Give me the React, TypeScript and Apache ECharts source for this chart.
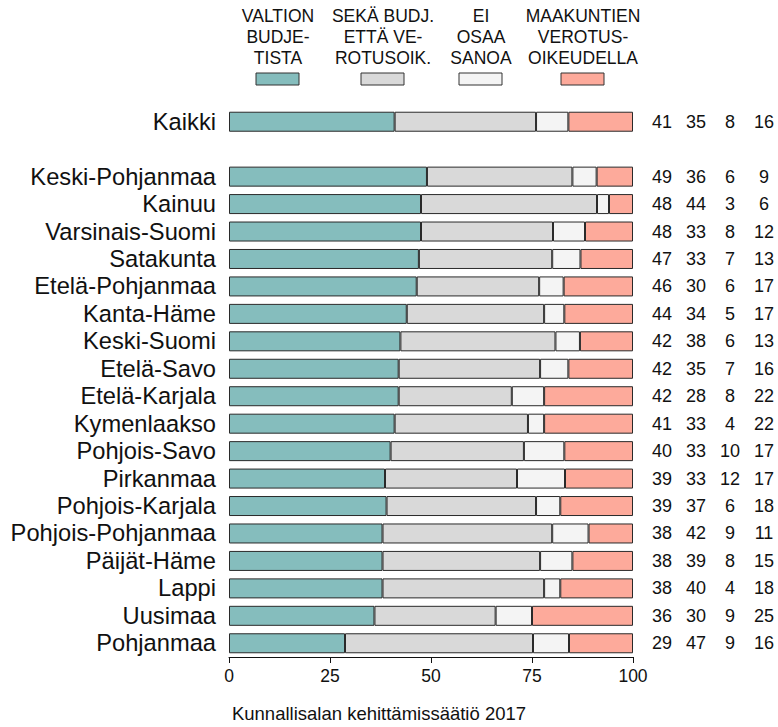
import React, { useEffect, useRef } from "react";
import * as echarts from "echarts";

const categories = [
  "Kaikki", "",
  "Keski-Pohjanmaa", "Kainuu", "Varsinais-Suomi", "Satakunta", "Etelä-Pohjanmaa",
  "Kanta-Häme", "Keski-Suomi", "Etelä-Savo", "Etelä-Karjala", "Kymenlaakso",
  "Pohjois-Savo", "Pirkanmaa", "Pohjois-Karjala", "Pohjois-Pohjanmaa", "Päijät-Häme",
  "Lappi", "Uusimaa", "Pohjanmaa",
];
const valtion = [41, null, 49, 48, 48, 47, 46, 44, 42, 42, 42, 41, 40, 39, 39, 38, 38, 38, 36, 29];
const seka = [35, null, 36, 44, 33, 33, 30, 34, 38, 35, 28, 33, 33, 33, 37, 42, 39, 40, 30, 47];
const eiOsaa = [8, null, 6, 3, 8, 7, 6, 5, 6, 7, 8, 4, 10, 12, 6, 9, 8, 4, 9, 9];
const maak = [16, null, 9, 6, 12, 13, 17, 17, 13, 16, 22, 22, 17, 17, 18, 11, 15, 18, 25, 16];
const seriesNames = [
  "VALTION\nBUDJE-\nTISTA",
  "SEKÄ BUDJ.\nETTÄ VE-\nROTUSOIK.",
  "EI\nOSAA\nSANOA",
  "MAAKUNTIEN\nVEROTUS-\nOIKEUDELLA",
];
const colors = ["#85BDBD", "#D9D9D9", "#F4F4F4", "#FDAA9B"];
const xTicks = [0, 25, 50, 75, 100];
const footer = "Kunnallisalan kehittämissäätiö 2017";

const FONT = "'Liberation Sans', Arial, Helvetica, sans-serif";

export default function App() {
  const ref = useRef<HTMLDivElement>(null);
  useEffect(() => {
    if (!ref.current) return;
    const chart = echarts.init(ref.current, null, { renderer: "svg" });
    const all = [valtion, seka, eiOsaa, maak];
    const sums = categories.map((_, i) =>
      all.reduce((s, arr) => s + (arr[i] == null ? 0 : (arr[i] as number)), 0)
    );
    const norm = (arr: (number | null)[]) =>
      arr.map((v, i) => (v == null ? null : (v * 100) / sums[i]));

    const legendCenters = [278, 383, 481, 583];
    const graphic: any[] = [];
    seriesNames.forEach((n, k) => {
      graphic.push({
        type: "text",
        x: legendCenters[k],
        y: 5,
        style: {
          text: n,
          font: `17.5px ${FONT}`,
          fill: "#111",
          align: "center",
          verticalAlign: "top",
          lineHeight: 21,
        },
      });
      graphic.push({
        type: "rect",
        shape: { x: legendCenters[k] - 22, y: 73, width: 43, height: 12 },
        style: { fill: colors[k], stroke: "#333", lineWidth: 1 },
      });
    });
    graphic.push({
      type: "text",
      x: 379,
      y: 713,
      style: {
        text: footer,
        font: `18.5px ${FONT}`,
        fill: "#111",
        align: "center",
        verticalAlign: "middle",
      },
    });

    const option: any = {
      animation: false,
      backgroundColor: "#fff",
      textStyle: { fontFamily: FONT },
      grid: { left: 229, right: 145, top: 108, bottom: 70, containLabel: false },
      xAxis: {
        type: "value",
        min: 0,
        max: 100,
        interval: 25,
        axisLine: { show: true, lineStyle: { color: "#111", width: 1 } },
        axisTick: { show: true, length: 6, lineStyle: { color: "#111" } },
        splitLine: { show: false },
        axisLabel: {
          color: "#111",
          fontSize: 17.5,
          margin: 10,
          fontFamily: FONT,
          formatter: (v: number) => (xTicks.includes(v) ? String(v) : ""),
        },
      },
      yAxis: [
        {
          type: "category",
          data: categories,
          inverse: true,
          axisLine: { show: false },
          axisTick: { show: false },
          axisLabel: { interval: 0, color: "#111", fontSize: 23.7, margin: 13, fontFamily: FONT },
        },
        {
          type: "category",
          data: categories,
          inverse: true,
          position: "right",
          axisLine: { show: false },
          axisTick: { show: false },
          axisLabel: {
            interval: 0,
            margin: 12,
            align: "left",
            formatter: (_v: string, i: number) => {
              if (valtion[i] == null) return "";
              return `{c|${valtion[i]}}{c|${seka[i]}}{c|${eiOsaa[i]}}{c|${maak[i]}}`;
            },
            rich: {
              c: {
                width: 34,
                align: "center",
                fontSize: 18,
                color: "#111",
                fontFamily: FONT,
              },
            },
          },
        },
      ],
      series: all.map((arr, k) => ({
        type: "bar",
        name: seriesNames[k],
        stack: "total",
        yAxisIndex: 0,
        barWidth: 20,
        data: norm(arr),
        itemStyle: { color: colors[k], borderColor: "#2a2a2a", borderWidth: 1 },
        emphasis: { disabled: true },
      })),
      graphic,
    };
    chart.setOption(option);
    return () => chart.dispose();
  }, []);
  return (
    <div
      ref={ref}
      style={{ position: "fixed", left: 0, top: 0, width: 778, height: 727, background: "#fff" }}
    />
  );
}
